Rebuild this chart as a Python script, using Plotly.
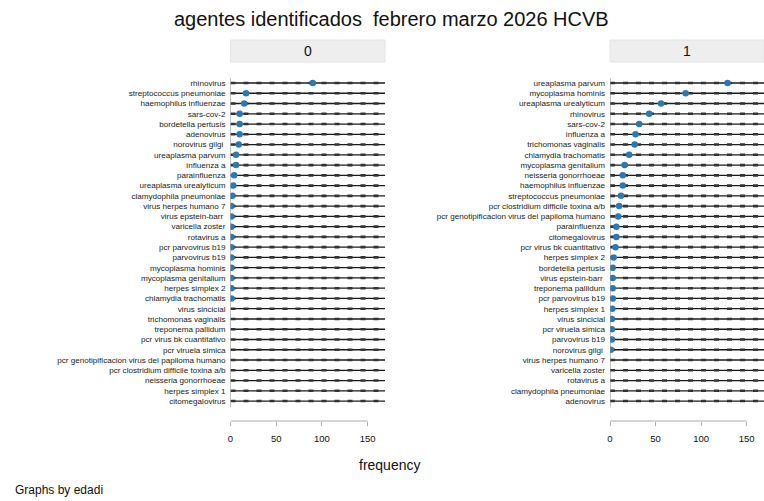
import plotly.graph_objects as go

# ---- data ----
labels_0 = ["rhinovirus", "streptococcus pneumoniae", "haemophilus influenzae", "sars-cov-2",
            "bordetella pertusis", "adenovirus", "norovirus gilgi ", "ureaplasma parvum",
            "influenza a", "parainfluenza", "ureaplasma urealyticum", "clamydophila pneumoniae",
            "virus herpes humano 7", "virus epstein-barr ", "varicella zoster", "rotavirus a",
            "pcr parvovirus b19", "parvovirus b19", "mycoplasma hominis", "mycoplasma genitalium",
            "herpes simplex 2", "chlamydia trachomatis", "virus sincicial", "trichomonas vaginalis",
            "treponema pallidum", "pcr virus bk cuantitativo", "pcr viruela simica",
            "pcr genotipificacion virus del papiloma humano", "pcr clostridium difficile toxina a/b",
            "neisseria gonorrhoeae", "herpes simplex 1", "citomegalovirus"]
values_0 = [90, 17, 15, 10, 10, 10, 9, 6, 6, 4, 3, 2, 1, 1, 1, 1, 1, 1, 1, 1, 1, 1,
            None, None, None, None, None, None, None, None, None, None]

labels_1 = ["ureaplasma parvum", "mycoplasma hominis", "ureaplasma urealyticum", "rhinovirus",
            "sars-cov-2", "influenza a", "trichomonas vaginalis", "chlamydia trachomatis",
            "mycoplasma genitalium", "neisseria gonorrhoeae", "haemophilus influenzae",
            "streptococcus pneumoniae", "pcr clostridium difficile toxina a/b",
            "pcr genotipificacion virus del papiloma humano", "parainfluenza", "citomegalovirus",
            "pcr virus bk cuantitativo", "herpes simplex 2", "bordetella pertusis",
            "virus epstein-barr ", "treponema pallidum", "pcr parvovirus b19", "herpes simplex 1",
            "virus sincicial", "pcr viruela simica", "parvovirus b19", "norovirus gilgi ",
            "virus herpes humano 7", "varicella zoster", "rotavirus a", "clamydophila pneumoniae",
            "adenovirus"]
values_1 = [129, 83, 56, 43, 32, 28, 27, 21, 16, 14, 14, 12, 10, 9, 7, 7, 6, 4, 3, 3, 3, 3, 2.5,
            2, 2, 2, 1, None, None, None, None, None]

panel_names = ["0", "1"]
x_ticks = [0, 50, 100, 150]
x_max = 169

# ---- layout geometry (pixels) ----
W, H = 764, 501
def px_x(p): return p / W
def px_y(p): return 1 - p / H

row0_px, row_step = 83, 10.26
top_px, bot_px = 74, 421
n = len(labels_0)
y_range = [(n - 1) + (bot_px - (row0_px + (n - 1) * row_step)) / row_step,
           -(row0_px - top_px) / row_step]

dom = [[px_x(230.5), px_x(385)], [px_x(610), 1.0]]
ydom = [px_y(bot_px), px_y(top_px)]

dot_color = "#2b78b6"
font = "Liberation Sans, Arial, sans-serif"

fig = go.Figure()
shapes = []
annotations = []

panels = [(labels_0, values_0), (labels_1, values_1)]
for k, (labs, vals) in enumerate(panels):
    xa = "x" if k == 0 else "x2"
    ya = "y" if k == 0 else "y2"
    idx = list(range(len(labs)))
    # row guide lines
    lx, ly = [], []
    for i in idx:
        lx += [0, x_max, None]
        ly += [i, i, None]
    fig.add_trace(go.Scatter(x=lx, y=ly, mode="lines", xaxis=xa, yaxis=ya,
                             line=dict(color="#1a1a1a", width=1.3), hoverinfo="skip", showlegend=False))
    fig.add_trace(go.Scatter(x=lx, y=ly, mode="lines", xaxis=xa, yaxis=ya,
                             line=dict(color="#333", width=2.6, dash="5px,8px"),
                             hoverinfo="skip", showlegend=False))
    # dots
    fig.add_trace(go.Scatter(x=vals, y=idx, mode="markers", xaxis=xa, yaxis=ya,
                             marker=dict(color=dot_color, size=6.5), showlegend=False))
    # vertical axis line at 0
    shapes.append(dict(type="line", xref=xa, yref=ya, x0=0, x1=0, y0=-0.5, y1=n - 0.4,
                       line=dict(color="#888", width=1)))
    # x axis bracket
    shapes.append(dict(type="line", xref=xa, yref=f"{ya} domain", x0=x_ticks[0], x1=x_ticks[-1],
                       y0=0, y1=0, line=dict(color="#aaa", width=1)))
    # strip
    shapes.append(dict(type="rect", xref="paper", yref="paper",
                       x0=dom[k][0], x1=dom[k][1], y0=px_y(62), y1=px_y(40),
                       fillcolor="#eeeeee", line=dict(color="#e4e4e4", width=1), layer="below"))
    annotations.append(dict(text=panel_names[k], xref="paper", yref="paper",
                            x=(dom[k][0] + dom[k][1]) / 2, y=px_y(51), showarrow=False,
                            font=dict(size=14, color="#111", family=font),
                            xanchor="center", yanchor="middle"))

axis_common_x = dict(range=[0, x_max], tickvals=x_ticks, ticks="outside", ticklen=4,
                     tickcolor="#aaa", showline=False, showgrid=False, zeroline=False,
                     tickfont=dict(size=9.5, color="#111", family=font),
                     ticklabelstandoff=5, automargin=False, fixedrange=True)

ytick_font = dict(size=8.1, color="#222", family=font)

fig.update_layout(
    width=W, height=H,
    margin=dict(l=0, r=0, t=0, b=0),
    paper_bgcolor="white", plot_bgcolor="white",
    template="none",
    xaxis=dict(domain=dom[0], anchor="y", **axis_common_x),
    xaxis2=dict(domain=dom[1], anchor="y2", **axis_common_x),
    yaxis=dict(domain=ydom, anchor="x", range=y_range, tickvals=list(range(n)), ticktext=labels_0,
               showgrid=False, zeroline=False, showline=False, ticks="",
               tickfont=ytick_font, ticklabelstandoff=4,
               automargin=False, fixedrange=True),
    yaxis2=dict(domain=ydom, anchor="x2", range=y_range, tickvals=list(range(n)), ticktext=labels_1,
                showgrid=False, zeroline=False, showline=False, ticks="",
                tickfont=ytick_font, ticklabelstandoff=4,
                automargin=False, fixedrange=True),
    shapes=shapes,
    annotations=annotations + [
        dict(text="agentes identificados  febrero marzo 2026 HCVB", xref="paper", yref="paper",
             x=px_x(391), y=px_y(19), showarrow=False, xanchor="center", yanchor="middle",
             font=dict(size=20, color="#111", family=font)),
        dict(text="frequency", xref="paper", yref="paper", x=px_x(389), y=px_y(465),
             showarrow=False, xanchor="center", yanchor="middle",
             font=dict(size=14, color="#111", family=font)),
        dict(text="Graphs by edadi", xref="paper", yref="paper", x=px_x(13), y=px_y(490),
             showarrow=False, xanchor="left", yanchor="middle",
             font=dict(size=12, color="#111", family=font)),
    ],
    showlegend=False,
)

fig.write_html("out.html", config={"displayModeBar": False},
               post_script="document.body.style.margin='0';document.body.style.overflow='hidden';")
